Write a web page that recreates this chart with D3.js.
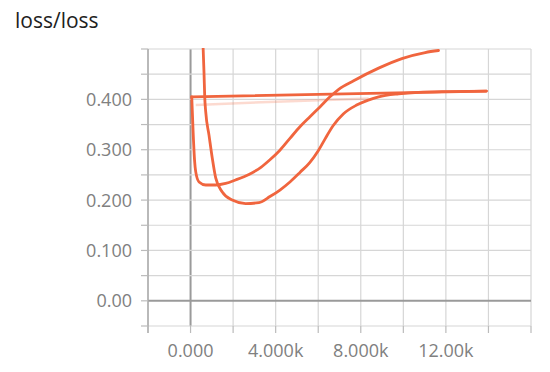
<!DOCTYPE html>
<html>
<head>
<meta charset="utf-8">
<script src="https://cdn.jsdelivr.net/npm/d3@7"></script>
<style>
  body { margin: 0; background: #fff; }
  text { font-family: "Open Sans", "DejaVu Sans", sans-serif; }
</style>
</head>
<body>
<div class="chart"></div>
<script>
// steps / loss values
// first run: comes in from the top, dips to ~0.19, then flattens at ~0.42
var stepsA = [586, 633, 666, 713, 867, 1022, 1182, 1491, 1960, 2588, 3212, 3731, 4201, 4671, 5141, 5611, 6001, 6316, 6706, 7176, 7805, 8350, 8838, 9776, 10714, 12200, 13903];
var lossA  = [0.508, 0.452, 0.405, 0.375, 0.329, 0.283, 0.244, 0.216, 0.200, 0.193, 0.195, 0.207, 0.220, 0.236, 0.255, 0.275, 0.298, 0.321, 0.348, 0.371, 0.3886, 0.3985, 0.405, 0.411, 0.414, 0.4155, 0.4165];
// second run: restarts at step 0, dips to ~0.23 and climbs out the top
var stepsB = [56, 117, 188, 244, 399, 713, 1182, 1650, 2119, 2743, 3306, 3731, 4201, 4671, 5141, 5611, 6081, 6551, 6963, 7666, 8838, 9931, 11028, 11652];
var lossB  = [0.405, 0.339, 0.279, 0.256, 0.236, 0.230, 0.230, 0.233, 0.240, 0.251, 0.265, 0.280, 0.299, 0.3225, 0.3456, 0.3655, 0.385, 0.405, 0.420, 0.437, 0.462, 0.481, 0.493, 0.497];
// faint raw line
var stepsRaw = [244, 3681, 8370];
var lossRaw  = [0.389, 0.395, 0.4016];

var xTicks = [-2000, 0, 2000, 4000, 6000, 8000, 10000, 12000, 14000, 16000];
var xLabelVals = [0, 4000, 8000, 12000];
var xLabels = ["0.000", "4.000k", "8.000k", "12.00k"];
var yTicks = [-0.05, 0, 0.05, 0.1, 0.15, 0.2, 0.25, 0.3, 0.35, 0.4, 0.45, 0.5];
var yLabelVals = [0, 0.1, 0.2, 0.3, 0.4];
var yLabels = ["0.00", "0.100", "0.200", "0.300", "0.400"];

var width = 550, height = 372;
var plotL = 148, plotR = 531, plotT = 49, plotB = 326;

var svg = d3.select(".chart").append("svg")
    .attr("width", width)
    .attr("height", height);

var x = d3.scaleLinear().domain([-2000, 16000]).range([plotL, plotR]);
var y = d3.scaleLinear().domain([-0.05, 0.5]).range([plotB, plotT]);

svg.append("text")
    .attr("x", 15)
    .attr("y", 28)
    .style("font-size", "21px")
    .style("fill", "#212121")
    .text("loss/loss");

// grid
svg.append("g").selectAll("line")
    .data(xTicks).enter().append("line")
    .attr("x1", function(d) { return x(d); })
    .attr("x2", function(d) { return x(d); })
    .attr("y1", plotT)
    .attr("y2", plotB)
    .style("stroke", function(d) { return d === 0 ? "#9a9a9a" : "#d6d6d6"; })
    .style("stroke-width", function(d) { return d === 0 ? 2 : 1.2; });

svg.append("g").selectAll("line")
    .data(yTicks).enter().append("line")
    .attr("x1", plotL)
    .attr("x2", plotR)
    .attr("y1", function(d) { return y(d); })
    .attr("y2", function(d) { return y(d); })
    .style("stroke", function(d) { return d === 0 ? "#9a9a9a" : "#d6d6d6"; })
    .style("stroke-width", function(d) { return d === 0 ? 2 : 1.2; });

// left axis line + ticks
svg.append("line")
    .attr("x1", plotL).attr("x2", plotL)
    .attr("y1", plotT).attr("y2", plotB + 7)
    .style("stroke", "#aaa").style("stroke-width", 1.5);

svg.append("g").selectAll("line")
    .data(yTicks).enter().append("line")
    .attr("x1", plotL - 7).attr("x2", plotL)
    .attr("y1", function(d) { return y(d); })
    .attr("y2", function(d) { return y(d); })
    .style("stroke", "#bbb").style("stroke-width", 1.2);

svg.append("g").selectAll("line")
    .data(xTicks).enter().append("line")
    .attr("x1", function(d) { return x(d); })
    .attr("x2", function(d) { return x(d); })
    .attr("y1", plotB).attr("y2", plotB + 7)
    .style("stroke", "#bbb").style("stroke-width", 1.2);

svg.append("g").selectAll("text")
    .data(yLabelVals).enter().append("text")
    .attr("x", plotL - 16)
    .attr("y", function(d) { return y(d) + 6.5; })
    .style("text-anchor", "end")
    .style("font-size", "18px")
    .style("fill", "#808080")
    .text(function(d, i) { return yLabels[i]; });

svg.append("g").selectAll("text")
    .data(xLabelVals).enter().append("text")
    .attr("x", function(d) { return x(d); })
    .attr("y", 357)
    .style("text-anchor", "middle")
    .style("font-size", "18px")
    .style("fill", "#808080")
    .text(function(d, i) { return xLabels[i]; });

// lines
svg.append("clipPath").attr("id", "plot")
    .append("rect")
    .attr("x", plotL).attr("y", plotT - 1)
    .attr("width", plotR - plotL).attr("height", plotB - plotT + 1);

var smooth = d3.line()
    .x(function(d) { return x(d[0]); })
    .y(function(d) { return y(d[1]); })
    .curve(d3.curveMonotoneX);
var straight = d3.line()
    .x(function(d) { return x(d[0]); })
    .y(function(d) { return y(d[1]); });

var raw = stepsRaw.map(function(s, i) { return [s, lossRaw[i]]; });
var runA = stepsA.map(function(s, i) { return [s, lossA[i]]; });
var runB = stepsB.map(function(s, i) { return [s, lossB[i]]; });
// the run jumps back to step 0 after its last point
var jump = [runA[runA.length - 1], runB[0]];

var g = svg.append("g").attr("clip-path", "url(#plot)");

g.append("path")
    .attr("d", straight(raw))
    .style("fill", "none")
    .style("stroke", "#f26b43")
    .style("stroke-opacity", 0.25)
    .style("stroke-width", 2.5);

g.selectAll("path.run")
    .data([[runA, smooth], [jump, straight], [runB, smooth]])
    .enter().append("path")
    .attr("class", "run")
    .attr("d", function(d) { return d[1](d[0]); })
    .style("fill", "none")
    .style("stroke", "#f0653e")
    .style("stroke-width", 2.8)
    .style("stroke-linejoin", "round")
    .style("stroke-linecap", "round");
</script>
</body>
</html>
